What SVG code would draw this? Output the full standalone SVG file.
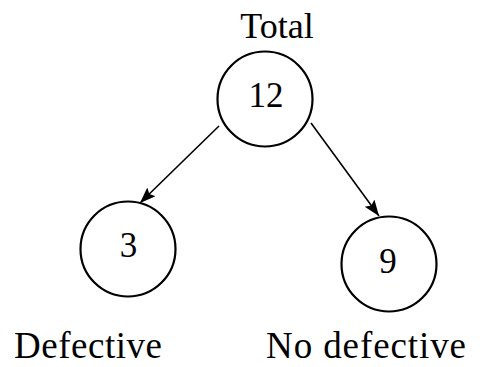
<svg xmlns="http://www.w3.org/2000/svg" width="480" height="367" viewBox="0 0 480 367">
<style>
.node{fill:none;stroke:#000;stroke-width:2.2}
.t{font-family:"Liberation Serif","Times New Roman",serif;fill:#000}
.edge{stroke:#000;stroke-width:1.6;fill:none}
</style>
<defs>
<marker id="ah" markerUnits="userSpaceOnUse" markerWidth="18" markerHeight="14" refX="16" refY="6" orient="auto">
<path d="M0,0 L16,6 L0,12 L3,6 Z" fill="#000"/>
</marker>
</defs>
<rect width="480" height="367" fill="#fff"/>
<g id="connectors">
<line class="edge" x1="219" y1="126" x2="140" y2="203" marker-end="url(#ah)"/>
<line class="edge" x1="311" y1="123" x2="379" y2="216" marker-end="url(#ah)"/>
</g>
<g id="node-total">
<text class="t" x="277" y="38" font-size="36" text-anchor="middle">Total</text>
<circle class="node" cx="265" cy="99" r="47.5"/>
<text class="t" x="266" y="107" font-size="35" text-anchor="middle">12</text>
</g>
<g id="node-defective">
<circle class="node" cx="128" cy="249" r="47.5"/>
<text class="t" x="128.5" y="257" font-size="35" text-anchor="middle">3</text>
<text class="t" x="14" y="358" font-size="37" textLength="148">Defective</text>
</g>
<g id="node-nodefective">
<circle class="node" cx="389" cy="264" r="47.5"/>
<text class="t" x="388" y="273" font-size="35" text-anchor="middle">9</text>
<text class="t" x="266" y="358" font-size="37" textLength="200">No defective</text>
</g>
</svg>
